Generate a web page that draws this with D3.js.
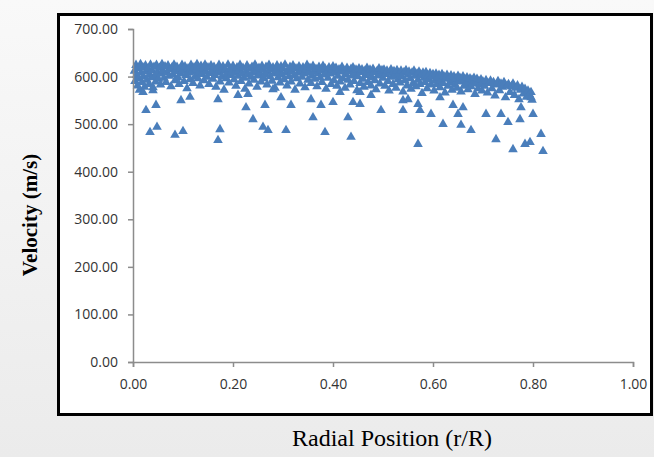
<!DOCTYPE html>
<html>
<head>
<meta charset="utf-8">
<script src="https://cdn.jsdelivr.net/npm/d3@7"></script>
<style>
  html, body { margin: 0; padding: 0; }
  body { width: 654px; height: 457px; overflow: hidden; }
</style>
</head>
<body>
<svg id="chart" width="654" height="457"></svg>
<script>
// dense band of measurements [r/R, velocity]
const bandPoints = [
  [0.003,612],[0.004,590],[0.006,624],[0.007,603],[0.009,581],[0.010,617],[0.012,596],[0.013,572],[0.015,626],[0.016,608],
  [0.018,588],[0.020,619],[0.021,600],[0.023,578],[0.025,623],[0.026,611],[0.028,593],[0.030,617],[0.032,584],[0.033,605],
  [0.035,625],[0.037,598],[0.038,613],[0.040,571],[0.042,620],[0.044,602],[0.045,589],[0.047,624],[0.049,609],[0.051,595],
  [0.053,618],[0.055,583],[0.056,606],[0.058,626],[0.060,612],[0.062,597],[0.064,621],[0.066,588],[0.068,609],[0.070,623],
  [0.072,601],[0.074,615],[0.076,579],[0.078,619],[0.080,604],[0.082,625],[0.084,592],[0.086,611],[0.088,620],[0.090,598],
  [0.092,584],[0.094,616],[0.096,606],[0.098,624],
  [0.100,613],[0.102,590],[0.104,621],[0.106,603],[0.108,575],[0.110,617],[0.112,608],[0.114,594],[0.116,624],[0.118,611],
  [0.120,586],[0.122,619],[0.124,600],[0.126,614],[0.128,626],[0.130,596],[0.132,609],[0.134,581],[0.136,622],[0.138,605],
  [0.140,616],[0.142,592],[0.144,625],[0.146,610],[0.148,599],[0.150,619],[0.152,584],[0.154,607],[0.156,623],[0.158,613],
  [0.160,595],[0.162,620],[0.164,603],[0.166,578],[0.168,616],[0.170,608],[0.172,624],[0.174,589],[0.176,612],[0.178,600],
  [0.180,621],[0.182,572],[0.184,614],[0.186,596],[0.188,606],[0.190,625],[0.192,587],[0.194,617],[0.196,603],[0.198,611],
  [0.200,622],[0.202,594],[0.204,608],[0.206,580],[0.208,619],[0.210,601],[0.212,613],[0.214,624],[0.216,590],[0.218,606],
  [0.220,618],[0.222,597],[0.224,574],[0.226,611],[0.228,623],[0.230,604],[0.232,585],[0.234,616],[0.236,599],[0.238,620],
  [0.240,609],[0.242,593],[0.244,625],[0.246,612],[0.248,578],[0.250,602],[0.252,618],[0.254,607],[0.256,589],[0.258,622],
  [0.260,614],[0.262,596],[0.264,605],[0.266,620],[0.268,583],[0.270,610],[0.272,624],[0.274,600],[0.276,615],[0.278,591],
  [0.280,619],[0.282,606],[0.284,576],[0.286,612],[0.288,623],[0.290,598],[0.292,609],[0.294,587],[0.296,621],[0.298,604],
  [0.300,616],[0.302,594],[0.304,625],[0.306,608],[0.308,581],[0.310,613],[0.312,600],[0.314,620],[0.316,589],[0.318,611],
  [0.320,623],[0.322,603],[0.324,572],[0.326,617],[0.328,596],[0.330,608],[0.332,621],[0.334,585],[0.336,612],[0.338,599],
  [0.340,619],[0.342,606],[0.344,577],[0.346,614],[0.348,624],[0.350,593],[0.352,609],[0.354,618],[0.356,586],[0.358,602],
  [0.360,622],[0.362,611],[0.364,595],[0.366,616],[0.368,579],[0.370,607],[0.372,620],[0.374,598],[0.376,613],[0.378,588],
  [0.380,622],[0.382,604],[0.384,617],[0.386,574],[0.388,610],[0.390,597],[0.392,619],[0.394,606],[0.396,584],[0.398,614],
  [0.400,621],[0.402,592],[0.404,608],[0.406,618],[0.408,580],[0.410,601],[0.412,615],[0.414,589],[0.416,610],[0.418,620],
  [0.420,596],[0.422,612],[0.424,576],[0.426,605],[0.428,618],[0.430,593],[0.432,611],[0.434,583],[0.436,616],[0.438,602],
  [0.440,619],[0.442,590],[0.444,607],[0.446,614],[0.448,571],[0.450,600],[0.452,617],[0.454,586],[0.456,609],[0.458,615],
  [0.460,595],[0.462,578],[0.464,612],[0.466,603],[0.468,618],[0.470,588],[0.472,606],[0.474,614],[0.476,581],[0.478,598],
  [0.480,616],[0.482,609],[0.484,592],[0.486,573],[0.488,611],[0.490,602],[0.492,617],[0.494,585],[0.496,606],[0.498,613],
  [0.500,597],[0.502,614],[0.504,580],[0.506,605],[0.508,612],[0.510,590],[0.512,570],[0.514,608],[0.516,615],[0.518,599],
  [0.520,584],[0.522,611],[0.524,603],[0.526,576],[0.528,613],[0.530,594],[0.532,607],[0.534,587],[0.536,612],[0.538,600],
  [0.540,568],[0.542,609],[0.544,592],[0.546,613],[0.548,581],[0.550,604],[0.552,610],[0.554,596],[0.556,574],[0.558,608],
  [0.560,586],[0.562,612],[0.564,601],[0.566,579],[0.568,606],[0.570,593],[0.572,610],[0.574,584],[0.576,603],[0.578,565],
  [0.580,608],[0.582,597],[0.584,588],[0.586,609],[0.588,575],[0.590,602],[0.592,594],[0.594,607],[0.596,583],[0.598,599],
  [0.600,605],[0.602,570],[0.604,591],[0.606,606],[0.608,584],[0.610,598],[0.612,603],[0.614,577],[0.616,592],[0.618,605],
  [0.620,586],[0.622,600],[0.624,566],[0.626,595],[0.628,603],[0.630,580],[0.632,597],[0.634,588],[0.636,602],[0.638,572],
  [0.640,593],[0.642,600],[0.644,583],[0.646,596],[0.648,576],[0.650,601],[0.652,589],[0.654,597],[0.656,568],[0.658,592],
  [0.660,600],[0.662,580],[0.664,594],[0.666,586],[0.668,598],[0.670,573],[0.672,590],[0.674,596],[0.676,579],[0.678,593],
  [0.680,585],[0.682,597],[0.684,563],[0.686,588],[0.688,595],[0.690,575],[0.692,590],[0.694,584],[0.696,594],[0.698,570],
  [0.700,589],[0.703,580],[0.706,592],[0.709,566],[0.712,586],[0.715,591],[0.718,575],[0.721,588],[0.724,560],[0.727,583],
  [0.730,590],[0.733,571],[0.736,585],[0.739,578],[0.742,588],[0.745,556],[0.748,580],[0.751,584],[0.754,567],[0.757,579],
  [0.760,585],[0.763,561],[0.766,576],[0.769,581],[0.772,552],[0.775,572],[0.778,578],[0.781,564],[0.784,574],[0.787,557],
  [0.790,570],[0.793,562],[0.796,567],[0.798,551]
];

// scattered lower readings [r/R, velocity]
const lowPoints = [
  [0.020,567],[0.026,529],[0.034,483],[0.040,577],[0.046,540],[0.048,494],[0.084,477],[0.096,550],[0.100,485],[0.114,557],
  [0.170,552],[0.170,466],[0.174,489],[0.210,561],[0.226,535],[0.230,563],[0.240,510],[0.260,494],[0.264,540],[0.270,487],
  [0.280,573],[0.296,556],[0.306,487],[0.316,540],[0.356,552],[0.360,514],[0.376,540],[0.384,483],[0.400,546],[0.414,567],
  [0.430,514],[0.436,473],[0.440,546],[0.454,542],[0.454,567],[0.476,561],[0.496,529],[0.540,529],[0.540,550],[0.550,552],
  [0.570,542],[0.570,458],[0.574,529],[0.596,521],[0.614,556],[0.620,500],[0.640,540],[0.650,521],[0.656,498],[0.660,535],
  [0.676,487],[0.706,521],[0.726,468],[0.736,521],[0.750,504],[0.760,447],[0.774,510],[0.776,535],[0.784,458],[0.794,462],
  [0.796,556],[0.800,521],[0.816,479],[0.820,443]
];

const xTicks = [0, 0.2, 0.4, 0.6, 0.8, 1.0];
const yTicks = [0, 100, 200, 300, 400, 500, 600, 700];

const svg = d3.select('#chart');

const defs = svg.append('defs');
const grad = defs.append('linearGradient')
  .attr('id', 'bg').attr('x1', 0).attr('y1', 0).attr('x2', 0).attr('y2', 1);
grad.append('stop').attr('offset', '0%').attr('stop-color', '#f9f9f9');
grad.append('stop').attr('offset', '100%').attr('stop-color', '#ebebeb');

svg.append('rect')
  .attr('width', 654).attr('height', 457)
  .attr('fill', 'url(#bg)');

// chart frame
svg.append('rect')
  .attr('x', 58.5).attr('y', 14.5)
  .attr('width', 593).attr('height', 400)
  .attr('fill', '#fff')
  .attr('stroke', '#000')
  .attr('stroke-width', 3);

const margin = { top: 29, left: 133 };
const width = 500;
const height = 333;

const x = d3.scaleLinear().domain([0, 1]).range([0, width]);
const y = d3.scaleLinear().domain([0, 700]).range([height, 0]);

const g = svg.append('g')
  .attr('transform', `translate(${margin.left},${margin.top})`);

const allPoints = bandPoints.concat(lowPoints);
const tri = d3.symbol().type(d3.symbolTriangle).size(40);

g.selectAll('.pt')
  .data(allPoints)
  .enter()
  .append('path')
  .attr('class', 'pt')
  .attr('transform', d => `translate(${x(d[0])},${y(d[1])})`)
  .attr('d', tri)
  .attr('fill', '#4a7ebb');

const xAxis = g.append('g')
  .attr('transform', `translate(0,${height})`)
  .call(d3.axisBottom(x).tickValues(xTicks).tickFormat(d3.format('.2f')).tickSizeOuter(0).tickSize(5).tickPadding(12));

const yAxis = g.append('g')
  .call(d3.axisLeft(y).tickValues(yTicks).tickFormat(d3.format('.2f')).tickSizeOuter(0).tickSize(5).tickPadding(10));

[xAxis, yAxis].forEach(a => {
  a.select('.domain').attr('stroke', '#8c8c8c').attr('stroke-width', 1.5);
  a.selectAll('.tick line').attr('stroke', '#8c8c8c').attr('stroke-width', 1.5);
  a.selectAll('.tick text')
    .attr('fill', '#333')
    .style('font-family', '"Open Sans", sans-serif')
    .style('font-size', '14px');
});

svg.append('text')
  .attr('transform', 'translate(37,215) rotate(-90)')
  .attr('text-anchor', 'middle')
  .style('font-family', '"Liberation Serif", "Times New Roman", serif')
  .style('font-size', '21px')
  .style('font-weight', 'bold')
  .text('Velocity (m/s)');

svg.append('text')
  .attr('x', 392).attr('y', 446)
  .attr('text-anchor', 'middle')
  .style('font-family', '"Liberation Serif", "Times New Roman", serif')
  .style('font-size', '24px')
  .text('Radial Position (r/R)');
</script>
</body>
</html>
